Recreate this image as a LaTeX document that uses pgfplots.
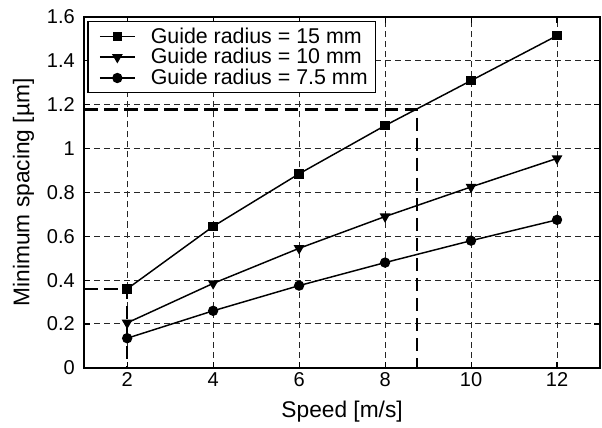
\documentclass[border=0pt]{standalone}
\usepackage{fontspec}
\setmainfont{Liberation Sans}
\usepackage{pgfplots}
\pgfplotsset{compat=1.18}

\begin{document}
\begin{tikzpicture}
\begin{axis}[
    name=ax,
    scale only axis,
    width=386pt, height=262.5pt,
    xmin=1, xmax=13, ymin=0, ymax=1.6,
    xtick={2,4,...,12},
    ytick={0,0.2,...,1.6},
    yticklabels={0,0.2,0.4,0.6,0.8,1,1.2,1.4,1.6},
    /pgf/number format/assume math mode=true,
    tick label style={font=\fontsize{15}{17}\selectfont},
    yticklabel style={xshift=-3.5pt},
    label style={font=\fontsize{17}{19}\selectfont},
    xlabel={Speed [m/s]},
    ylabel={Minimum spacing [\textmu m]},
    ylabel style={at={([xshift=-45.5pt]axis description cs:0,0.5)}, anchor=center},
    xlabel style={at={([yshift=-37.5pt]axis description cs:0.5,0)}, anchor=base},
    grid=major,
    grid style={black!85, line width=0.75pt, dash pattern=on 4.5pt off 3pt},
    axis line style={line width=1.2pt},
    tick style={black, line width=0.8pt},
    major tick length=4.5pt,
    tick pos=both,
    legend style={at={(rel axis cs:0.006,0.989)}, anchor=north west,
        font=\fontsize{16}{18}\selectfont, draw=black, line width=1pt,
        row sep=-1.5pt, inner xsep=4pt, inner ysep=2.5pt},
    legend cell align=left,
    every axis plot/.append style={black, line width=1.1pt, mark size=3pt,
      legend image code/.code={%
        \path[draw=none] (0pt,0pt) -- (41pt,0pt);
        \draw[mark repeat=2, mark phase=2]
          plot coordinates {(5pt,0pt) (18pt,0pt) (31pt,0pt)};}},
]
\addplot[mark=square*] coordinates {
  (2,0.36) (4,0.645) (6,0.885) (8,1.105) (10,1.31) (12,1.515)};
\addlegendentry{Guide radius = 15 mm}
\addplot[mark=triangle*, mark options={rotate=180}, mark size=3.6pt] coordinates {
  (2,0.205) (4,0.385) (6,0.545) (8,0.69) (10,0.825) (12,0.955)};
\addlegendentry{Guide radius = 10 mm}
\addplot[mark=*, mark size=3.3pt] coordinates {
  (2,0.135) (4,0.26) (6,0.375) (8,0.48) (10,0.58) (12,0.675)};
\addlegendentry{Guide radius = 7.5 mm}
\addplot[black, line width=1.6pt, dash pattern=on 10pt off 5pt, mark=none, forget plot]
  coordinates {(1,0.36) (2,0.36) (2,0)};
\addplot[black, line width=1.6pt, dash pattern=on 10pt off 5pt, mark=none, forget plot]
  coordinates {(1,1.178) (8.74,1.178) (8.74,0)};
\end{axis}
\path ([shift={(-63pt,-42pt)}]ax.south west) rectangle ([shift={(1.5pt,12.75pt)}]ax.north east);
\end{tikzpicture}
\end{document}
